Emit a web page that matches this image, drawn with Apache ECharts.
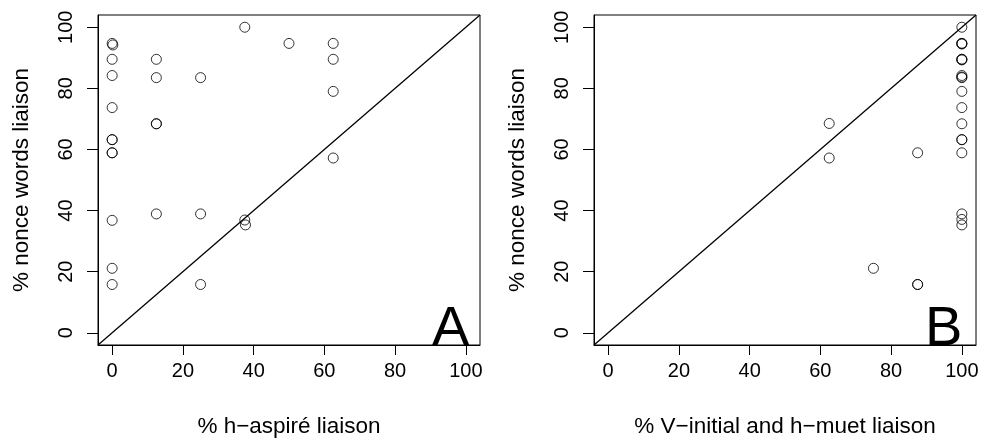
<!DOCTYPE html>
<html>
<head>
<meta charset="utf-8">
<script src="https://cdn.jsdelivr.net/npm/echarts@6/dist/echarts.min.js"></script>
<style>html,body{margin:0;padding:0;background:#fff}#c{width:982px;height:443px}</style>
</head>
<body>
<div id="c"></div>
<script>
// Panel A: % h-aspiré liaison vs % nonce words liaison
const aX = [37.5, 50, 62.5, 0, 0.2, 0, 12.5, 62.5, 0, 12.5, 25, 62.5, 0, 12.5, 12.5, 0, 0, 0, 0, 62.5, 12.5, 25, 37.5, 37.7, 0, 0, 0, 25];
const aY = [100, 94.7, 94.7, 94.7, 94.2, 89.5, 89.5, 89.5, 84.2, 83.5, 83.5, 79, 73.7, 68.4, 68.4, 63.2, 63.2, 58.9, 58.9, 57.2, 38.9, 38.9, 36.9, 35.3, 36.8, 21.1, 15.8, 15.8];
// Panel B: % V-initial and h-muet liaison vs % nonce words liaison
const bX = [100, 100, 100, 100, 100, 100, 100, 100, 100, 100, 100, 100, 100, 100, 100, 100, 62.5, 62.5, 87.5, 100, 100, 100, 75, 87.5, 87.5];
const bY = [100, 94.7, 94.7, 94.5, 89.5, 89.5, 89.3, 84.2, 83.5, 83.7, 79, 73.7, 68.4, 63.2, 63.2, 58.9, 68.5, 57.2, 58.9, 38.9, 37.1, 35.3, 21.1, 15.8, 15.8];
const tickVals = [0, 20, 40, 60, 80, 100];
const diag = [[-4, -4], [104, 104]];
const xTitles = ['% h\u2212aspiré liaison', '% V\u2212initial and h\u2212muet liaison'];
const yTitle = '% nonce words liaison';
const panelLetters = ['A', 'B'];

const FONT = 'Liberation Sans, Arial, Helvetica, sans-serif';
const pairs = (xs, ys) => xs.map((x, i) => [x, ys[i]]);

function xAxisFor(gi) {
  return {
    gridIndex: gi, type: 'value', min: -4, max: 104,
    name: xTitles[gi], nameLocation: 'middle', nameGap: 70,
    nameTextStyle: { color: '#000', fontSize: 22.5, fontFamily: FONT },
    axisLine: { show: true, onZero: false, lineStyle: { color: '#000', width: 1 } },
    axisTick: { show: true, customValues: tickVals, length: 10, inside: false, lineStyle: { color: '#000', width: 1 } },
    axisLabel: { show: true, customValues: tickVals, margin: 16, color: '#000', fontSize: 20, fontFamily: FONT },
    splitLine: { show: false }
  };
}
function yAxisFor(gi) {
  return {
    gridIndex: gi, type: 'value', min: -4, max: 104,
    name: yTitle, nameLocation: 'middle', nameGap: 65,
    nameTextStyle: { color: '#000', fontSize: 22.5, fontFamily: FONT },
    axisLine: { show: true, onZero: false, lineStyle: { color: '#000', width: 1 } },
    axisTick: { show: true, customValues: tickVals, length: 11, inside: false, lineStyle: { color: '#000', width: 1 } },
    axisLabel: { show: true, customValues: tickVals, rotate: 90, margin: 22, color: '#000', fontSize: 20, fontFamily: FONT },
    splitLine: { show: false }
  };
}
const scatterStyle = { color: 'rgba(0,0,0,0)', borderColor: '#000', borderWidth: 1 };

const option = {
  animation: false,
  backgroundColor: '#fff',
  grid: [
    { left: 98, top: 15, width: 382, height: 339, show: true, borderColor: '#000', borderWidth: 1, containLabel: false },
    { left: 594, top: 15, width: 382, height: 339, show: true, borderColor: '#000', borderWidth: 1, containLabel: false }
  ],
  title: [
    { text: panelLetters[0], left: 432, top: 302, textStyle: { fontSize: 56, fontWeight: 'normal', color: '#000', fontFamily: FONT }, padding: 0 },
    { text: panelLetters[1], left: 925, top: 302, textStyle: { fontSize: 56, fontWeight: 'normal', color: '#000', fontFamily: FONT }, padding: 0 }
  ],
  xAxis: [xAxisFor(0), xAxisFor(1)],
  yAxis: [yAxisFor(0), yAxisFor(1)],
  series: [
    { type: 'line', xAxisIndex: 0, yAxisIndex: 0, data: diag, showSymbol: false, symbol: 'none', lineStyle: { color: '#000', width: 1.3 }, silent: true },
    { type: 'line', xAxisIndex: 1, yAxisIndex: 1, data: diag, showSymbol: false, symbol: 'none', lineStyle: { color: '#000', width: 1.3 }, silent: true },
    { type: 'scatter', xAxisIndex: 0, yAxisIndex: 0, data: pairs(aX, aY), symbol: 'circle', symbolSize: 10, itemStyle: scatterStyle },
    { type: 'scatter', xAxisIndex: 1, yAxisIndex: 1, data: pairs(bX, bY), symbol: 'circle', symbolSize: 10, itemStyle: scatterStyle }
  ]
};
echarts.init(document.getElementById('c'), null, { renderer: 'canvas' }).setOption(option);
</script>
</body>
</html>
